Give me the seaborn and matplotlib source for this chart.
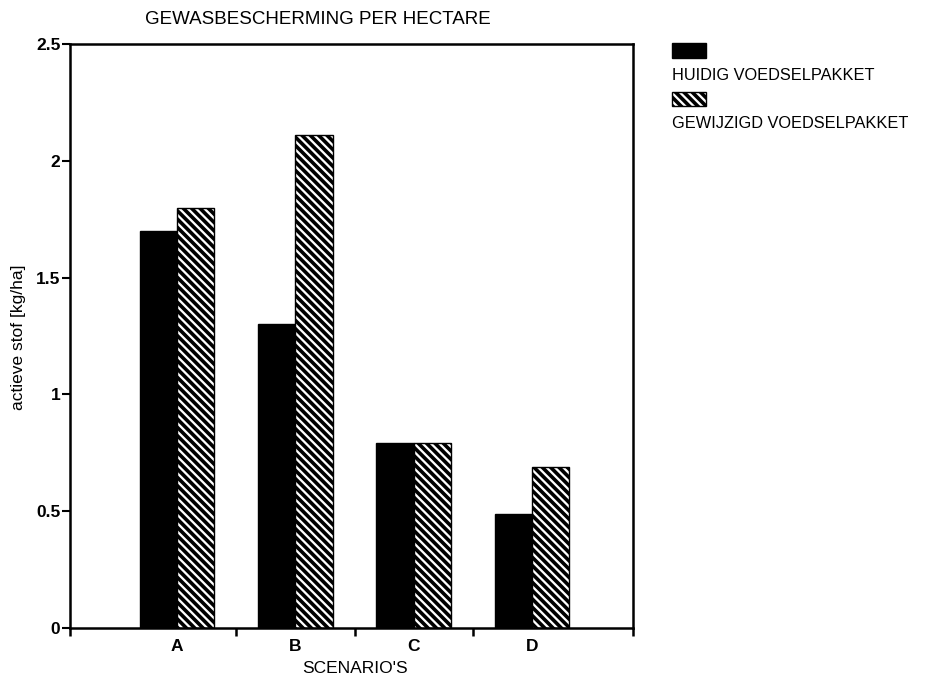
import matplotlib
matplotlib.use("Agg")
import matplotlib.pyplot as plt
import seaborn as sns
import pandas as pd
from matplotlib.patches import Rectangle
from matplotlib.ticker import FuncFormatter, FixedLocator

scenarios = ["A", "B", "C", "D"]
huidig = [1.70, 1.30, 0.79, 0.49]
gewijzigd = [1.80, 2.11, 0.79, 0.69]
series_names = ["HUIDIG VOEDSELPAKKET", "GEWIJZIGD VOEDSELPAKKET"]
yticks = [0, 0.5, 1, 1.5, 2, 2.5]

df = pd.DataFrame({
    "scenario": scenarios * 2,
    "waarde": huidig + gewijzigd,
    "pakket": [series_names[0]] * 4 + [series_names[1]] * 4,
})

sns.set_theme(style="white")
plt.rcParams["font.family"] = ["Liberation Sans", "DejaVu Sans"]
plt.rcParams["hatch.linewidth"] = 2.6
plt.rcParams["hatch.color"] = "black"

HATCH = "\\\\\\\\"

fig = plt.figure(figsize=(9.3, 6.8), dpi=100)
ax = fig.add_axes([70 / 930, 1 - 628 / 680, (633 - 70) / 930, (628 - 44) / 680])

sns.barplot(data=df, x="scenario", y="waarde", hue="pakket", order=scenarios,
            hue_order=series_names, palette=["black", "white"], width=0.63,
            gap=0, edgecolor="black", linewidth=1.0, legend=False, ax=ax,
            errorbar=None, saturation=1)

for p in ax.containers[1]:
    p.set_hatch(HATCH)
    if hasattr(p, "set_hatch_linewidth"):
        p.set_hatch_linewidth(2.6)
    p.set_facecolor("white")
    p.set_edgecolor("black")

ax.set_ylim(0, 2.5)
xl = (-0.907, 3.856)
ax.set_xlim(*xl)
ax.yaxis.set_major_locator(FixedLocator(yticks))
ax.yaxis.set_major_formatter(FuncFormatter(lambda v, p: f"{v:g}"))
ax.xaxis.set_minor_locator(FixedLocator([xl[0], 0.5, 1.5, 2.5, xl[1]]))
ax.tick_params(axis="x", which="major", length=0, pad=8, labelsize=12.5)
ax.tick_params(axis="x", which="minor", length=6, width=1.8, direction="out", color="black", bottom=True)
ax.tick_params(axis="y", which="major", length=6, width=1.5, direction="out", color="black",
               left=True, labelsize=12.5, pad=1)
for lbl in ax.get_xticklabels() + ax.get_yticklabels():
    lbl.set_fontweight("bold")
    lbl.set_color("black")

for s in ax.spines.values():
    s.set_color("black")
    s.set_linewidth(1.8)

ax.set_xlabel("SCENARIO'S", fontsize=12.5, color="black", va="center")
ax.xaxis.set_label_coords(0.506, -0.070)
ax.set_ylabel("actieve stof [kg/ha]", fontsize=12.5, color="black", va="center")
ax.yaxis.set_label_coords(-0.0906, 0.498)

fig.text(145 / 930, 1 - 20 / 680, "GEWASBESCHERMING PER HECTARE", fontsize=13.5,
         ha="left", va="center", color="black")

# legend (patch above label)
fig.patches.append(Rectangle((672 / 930, 1 - 58 / 680), 34 / 930, 15 / 680,
                             transform=fig.transFigure, facecolor="black",
                             edgecolor="black", figure=fig))
fig.text(672 / 930, 1 - 75 / 680, series_names[0], fontsize=11.8, ha="left",
         va="center", color="black")
leg2 = Rectangle((672 / 930, 1 - 106 / 680), 34 / 930, 14 / 680,
                 transform=fig.transFigure, facecolor="white",
                 edgecolor="black", hatch=HATCH, linewidth=1.0, figure=fig)
fig.patches.append(leg2)
fig.text(672 / 930, 1 - 124 / 680, series_names[1], fontsize=11.8, ha="left",
         va="center", color="black")

fig.savefig("out.png", dpi=100)
